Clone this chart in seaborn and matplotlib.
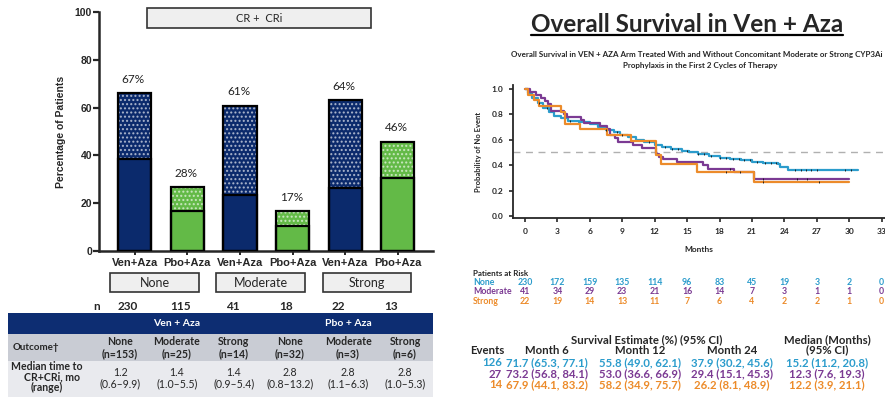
import matplotlib
matplotlib.use("Agg")
import matplotlib.pyplot as plt
import matplotlib.transforms as mtransforms
from matplotlib.lines import Line2D
from matplotlib.patches import Rectangle
import numpy as np
import pandas as pd
import seaborn as sns

# ---------------- left panel: CR + CRi by CYP3A inhibitor use ----------------
bar_ids = ["none_ven", "none_pbo", "mod_ven", "mod_pbo", "str_ven", "str_pbo"]
arms = ["Ven+Aza", "Pbo+Aza", "Ven+Aza", "Pbo+Aza", "Ven+Aza", "Pbo+Aza"]
groups = ["None", "Moderate", "Strong"]
total_pct = [66.0, 26.6, 60.8, 16.7, 63.0, 45.7]
cr_pct = [38.6, 16.7, 23.6, 10.3, 26.5, 30.5]
pct_labels = ["67%", "28%", "61%", "17%", "64%", "46%"]
n_patients = [230, 115, 41, 18, 22, 13]

outcome_groups = ["None", "Moderate", "Strong", "None", "Moderate", "Strong"]
outcome_n = [153, 25, 14, 32, 3, 6]
median_time = ["1.2", "1.4", "1.4", "2.8", "2.8", "2.8"]
time_range = ["0.6–9.9", "1.0–5.5", "0.9–5.4", "0.8–13.2", "1.1–6.3", "1.0–5.3"]

# ---------------- right panel: overall survival (Ven + Aza) ----------------
km_groups = ["None", "Moderate", "Strong"]
none_t = [0, 0.3, 0.7, 1.2, 1.7, 2.2, 2.7, 3.3, 4.0, 5.0, 6.0, 6.8, 7.5, 8.2, 8.8,
          9.5, 10.3, 11.0, 12.0, 12.7, 13.5, 14.5, 15.2, 16.0, 17.0, 18.0, 19.0,
          20.0, 21.0, 22.0, 23.4, 23.6, 24.3, 30.8]
none_s = [1.0, 0.97, 0.93, 0.89, 0.85, 0.82, 0.79, 0.77, 0.75, 0.74, 0.72, 0.70,
          0.68, 0.66, 0.64, 0.62, 0.60, 0.585, 0.56, 0.545, 0.53, 0.515, 0.50,
          0.49, 0.475, 0.46, 0.45, 0.44, 0.425, 0.415, 0.41, 0.385, 0.36, 0.36]
mod_t = [0, 0.5, 1.0, 1.5, 1.9, 2.1, 2.4, 3.6, 3.9, 5.2, 5.5, 6.9, 7.6, 7.9, 8.3,
         8.6, 10.0, 10.8, 12.1, 12.4, 12.8, 14.1, 16.5, 16.9, 19.3, 21.2, 30.0]
mod_s = [1.0, 0.976, 0.951, 0.927, 0.902, 0.878, 0.829, 0.805, 0.780, 0.756,
         0.732, 0.707, 0.683, 0.634, 0.610, 0.585, 0.561, 0.537, 0.488, 0.463,
         0.451, 0.427, 0.402, 0.372, 0.343, 0.294, 0.294]
str_t = [0, 0.3, 0.8, 1.3, 3.3, 3.7, 5.1, 7.6, 9.8, 12.1, 12.6, 15.9, 21.2, 30.0]
str_s = [1.0, 0.955, 0.909, 0.864, 0.818, 0.727, 0.682, 0.636, 0.591, 0.48,
         0.41, 0.35, 0.265, 0.265]
none_cens = [1.3, 2.0, 4.2, 7.5, 8.5, 9.0, 11.5, 13.0, 13.6, 14.2, 15.0, 16.0,
             16.6, 17.2, 18.0, 18.6, 19.2, 19.8, 20.3, 20.8, 21.5, 22.2, 22.8,
             23.2, 25.0, 25.5, 26.0, 26.5, 27.0, 29.6, 30.2]
mod_cens = [19.0, 22.0, 25.2, 26.1]
str_cens = [18.6, 19.9, 22.0, 27.2]

risk_months = [0, 3, 6, 9, 12, 15, 18, 21, 24, 27, 30, 33]
risk_none = [230, 172, 159, 135, 114, 96, 83, 45, 19, 3, 2, 0]
risk_mod = [41, 34, 29, 23, 21, 16, 14, 7, 3, 1, 1, 0]
risk_str = [22, 19, 14, 13, 11, 7, 6, 4, 2, 2, 1, 0]

events = [126, 27, 14]
est_m6 = ["71.7 (65.3, 77.1)", "73.2 (56.8, 84.1)", "67.9 (44.1, 83.2)"]
est_m12 = ["55.8 (49.0, 62.1)", "53.0 (36.6, 66.9)", "58.2 (34.9, 75.7)"]
est_m24 = ["37.9 (30.2, 45.6)", "29.4 (15.1, 45.3)", "26.2 (8.1, 48.9)"]
median_os = ["15.2 (11.2, 20.8)", "12.3 (7.6, 19.3)", "12.2 (3.9, 21.1)"]

NAVY = "#0b2a6c"
GREEN = "#63ba47"
KM_COLORS = {"None": "#2b9ccc", "Moderate": "#7b3a93", "Strong": "#ec8b2a"}

sns.set_style("ticks")
plt.rcParams["font.family"] = ["Lato", "DejaVu Sans"]
ARIAL = ["Liberation Sans", "DejaVu Sans"]

W, H = 885, 398
fig = plt.figure(figsize=(W / 100, H / 100), dpi=100, facecolor="white")


def box(x0, y0, x1, y1, **kw):
    fig.add_artist(Rectangle((x0 / W, 1 - y1 / H), (x1 - x0) / W, (y1 - y0) / H,
                             transform=fig.transFigure, **kw))


def txt(x, y, s, **kw):
    kw.setdefault("ha", "center")
    kw.setdefault("va", "center")
    return fig.text(x / W, 1 - y / H, s, **kw)


# ---- bar chart ----
ax = fig.add_axes([99 / W, 1 - 251 / H, (433 - 99) / W, (251 - 12) / H])
bars = pd.DataFrame({"bar": bar_ids, "arm": arms, "total": total_pct, "cr": cr_pct})
palette = {"Ven+Aza": NAVY, "Pbo+Aza": GREEN}
sns.barplot(bars, x="bar", y="total", hue="arm", palette=palette, dodge=False,
            width=0.63, saturation=1, hatch="....", edgecolor=(1, 1, 1, 0.6),
            linewidth=0, legend=False, ax=ax)
top_bars = list(ax.patches)
sns.barplot(bars, x="bar", y="cr", hue="arm", palette=palette, dodge=False,
            width=0.63, saturation=1, edgecolor="black", linewidth=1.6,
            legend=False, ax=ax)
for p in top_bars:
    ax.add_patch(Rectangle(p.get_xy(), p.get_width(), p.get_height(),
                           fill=False, edgecolor="black", linewidth=1.6, zorder=3))
    i = int(round(p.get_x() + p.get_width() / 2))
    ax.annotate(pct_labels[i], (p.get_x() + p.get_width() / 2, p.get_height()),
                xytext=(-1, 6), textcoords="offset points", ha="center",
                va="bottom", fontsize=8.5, color="#222222")

ax.set_xlim(-0.68, 5.67)
ax.set_ylim(0, 100)
ax.set_yticks(range(0, 101, 20))
ax.set_xticks(range(len(arms)))
ax.set_xticklabels(arms, fontsize=8, fontweight="bold", family=ARIAL)
for lab in ax.get_yticklabels():
    lab.set_fontsize(7.5)
    lab.set_fontweight("bold")
    lab.set_family(ARIAL)
ax.set_xlabel("")
ax.set_ylabel("Percentage of Patients", fontsize=7.5, fontweight="bold",
              family=ARIAL, labelpad=6)
sns.despine(ax=ax)
for s in ["left", "bottom"]:
    ax.spines[s].set_linewidth(1.8)
ax.tick_params(axis="y", length=4, width=1.6, pad=1)
ax.tick_params(axis="x", length=3, width=1.4, pad=2)

# CR + CRi header box and group boxes
box(147, 8, 371, 28, facecolor="#efefef", edgecolor="#333333", linewidth=1.2)
txt(259, 18, "CR +  CRi", fontsize=8)
for (x0, x1), g in zip([(110, 199), (216, 305), (323, 411)], groups):
    box(x0, 273, x1, 292, facecolor="#efefef", edgecolor="#333333", linewidth=1.2)
    txt((x0 + x1) / 2, 283, g, fontsize=9)

# table under bars
bar_tr = mtransforms.blended_transform_factory(ax.transData, fig.transFigure)
txt(97, 307, "n", fontsize=8.5, fontweight="bold")
for i, n in enumerate(n_patients):
    fig.text(i - 0.13, 1 - 307 / H, str(n), transform=bar_tr, ha="center",
             va="center", fontsize=8.5, fontweight="bold")
box(8, 313, 433, 334, facecolor="#0d2d72", edgecolor="none")
txt(177, 323.5, "Ven + Aza", fontsize=7.5, fontweight="bold", color="white")
txt(348, 323.5, "Pbo + Aza", fontsize=7.5, fontweight="bold", color="white")
box(8, 334, 433, 361, facecolor="#c9ccd4", edgecolor="none")
box(8, 361, 433, 397, facecolor="#e9eaee", edgecolor="none")
txt(36, 348, "Outcome\u2020", fontsize=7, fontweight="bold")
col_x = [120, 177, 234, 290, 348, 405]
for x, g, n, m, r in zip(col_x, outcome_groups, outcome_n, median_time, time_range):
    txt(x, 347.5, f"{g}\n(n={n})", fontsize=7.6, fontweight="bold", linespacing=1.05)
    txt(x, 378, f"{m}\n({r})", fontsize=7.6, linespacing=1.1)
txt(47, 377, "Median time to\n    CR+CRi, mo\n(range)", fontsize=7.6,
    fontweight="bold", linespacing=0.92)

# ---- Kaplan-Meier panel ----
title = txt(687, 24, "Overall Survival in Ven + Aza", fontsize=17.5,
            fontweight="bold")
txt(697, 55, "Overall Survival in VEN + AZA Arm Treated With and Without "
    "Concomitant Moderate or Strong CYP3Ai", fontsize=5.8, fontweight="bold")
txt(700, 65.5, "Prophylaxis in the First 2 Cycles of Therapy", fontsize=5.8,
    fontweight="bold")

ax2 = fig.add_axes([513 / W, 1 - 218 / H, (885 - 513) / W, (218 - 85) / H])
curves = {"None": (none_t, none_s, none_cens), "Moderate": (mod_t, mod_s, mod_cens),
          "Strong": (str_t, str_s, str_cens)}
km = pd.concat([pd.DataFrame({"group": g, "month": t, "surv": s})
                for g, (t, s, _) in curves.items()], ignore_index=True)
ax2.axhline(0.5, color="#b0b0b0", linestyle=(0, (5, 4)), linewidth=1.0, zorder=0)
sns.lineplot(km, x="month", y="surv", hue="group", hue_order=km_groups,
             palette=KM_COLORS, drawstyle="steps-post", estimator=None,
             sort=False, linewidth=1.6, legend=False, ax=ax2)
for g, (t, s, cens) in curves.items():
    t, s, cens = np.array(t), np.array(s), np.array(cens)
    idx = np.searchsorted(t, cens, side="right") - 1
    ax2.plot(cens, s[idx], linestyle="none", marker="|", color="#111111",
             markersize=1.8, markeredgewidth=0.6, zorder=4)

ax2.set_xlim(-1.1, 33.3)
ax2.set_ylim(-0.015, 1.03)
ax2.set_xticks(risk_months)
ax2.set_yticks(np.arange(0, 1.01, 0.2))
ax2.set_yticklabels([f"{v:.1f}" for v in np.arange(0, 1.01, 0.2)])
for lab in ax2.get_xticklabels() + ax2.get_yticklabels():
    lab.set_fontsize(6)
    lab.set_fontweight("bold")
ax2.set_xlabel("Months", fontsize=6, fontweight="bold", labelpad=8)
ax2.set_ylabel("Probability of No Event", fontsize=5.5, fontweight="bold",
               labelpad=7)
sns.despine(ax=ax2)
for s in ["left", "bottom"]:
    ax2.spines[s].set_linewidth(1.3)
ax2.tick_params(length=3, width=1.2, pad=4)

# patients at risk
risk_tr = mtransforms.blended_transform_factory(ax2.transData, fig.transFigure)
txt(473, 273, "Patients at Risk", fontsize=5.8, fontweight="bold", ha="left")
for y, g, vals in zip([282.5, 292, 301.5], km_groups, [risk_none, risk_mod, risk_str]):
    txt(473, y, g, fontsize=6.3, fontweight="bold", ha="left", color=KM_COLORS[g])
    for m, v in zip(risk_months, vals):
        fig.text(m, 1 - y / H, str(v), transform=risk_tr, ha="center", va="center",
                 fontsize=6.3, fontweight="bold", color=KM_COLORS[g])

# survival estimates table
txt(647, 340, "Survival Estimate (%) (95% CI)", fontsize=8.2, fontweight="bold")
txt(827, 340, "Median (Months)", fontsize=8.2, fontweight="bold")
txt(827, 350, "(95% CI)", fontsize=8.2, fontweight="bold")
for x, h in zip([487, 547, 640, 732], ["Events", "Month 6", "Month 12", "Month 24"]):
    txt(x, 351, h, fontsize=8.2, fontweight="bold")
for i, g in enumerate(km_groups):
    y = 363 + i * 11
    c = KM_COLORS[g]
    txt(502, y, str(events[i]), fontsize=8.2, fontweight="bold", color=c,
        ha="right")
    for x, col in zip([547, 640, 732, 827], [est_m6, est_m12, est_m24, median_os]):
        txt(x, y, col[i], fontsize=8.2, fontweight="bold", color=c)

# underline the slide title
fig.canvas.draw()
bb = title.get_window_extent(fig.canvas.get_renderer())
fig.add_artist(Line2D([bb.x0 / W, bb.x1 / W], [(bb.y0 + 1) / H] * 2,
                      transform=fig.transFigure, color="black", linewidth=1.6))

fig.savefig("out.png", dpi=100, facecolor="white")
